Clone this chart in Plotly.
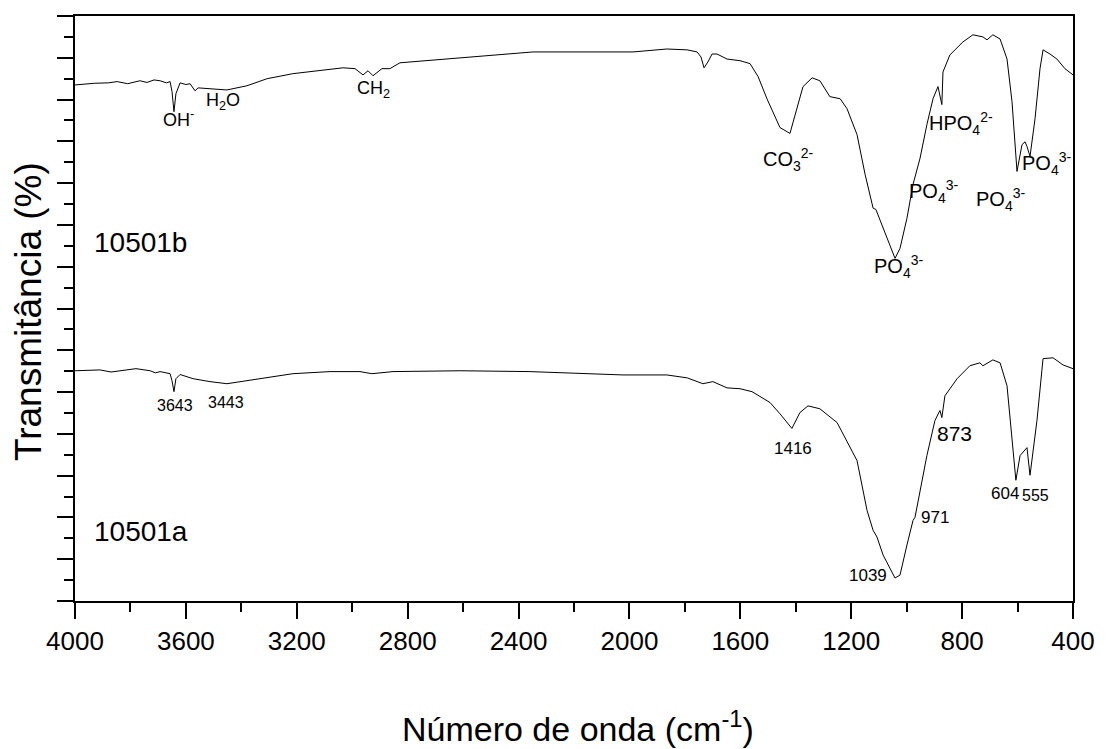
import plotly.graph_objects as go

# ---- data ----
wn_b = [4000, 3930, 3880, 3848, 3810, 3766, 3740, 3715, 3693, 3670, 3657, 3650, 3643, 3636, 3621, 3600, 3585,
        3574, 3567, 3556, 3513, 3452, 3380, 3307, 3214, 3116, 3033, 2990, 2961, 2943, 2925, 2893, 2864,
        2828, 2611, 2514, 2348, 2200, 1987, 1865, 1792, 1756, 1742, 1731, 1717, 1702, 1684, 1648, 1601,
        1565, 1536, 1504, 1457, 1421, 1396, 1374, 1341, 1313, 1277, 1240, 1215, 1179, 1150, 1121, 1111,
        1085, 1042, 1024, 999, 977, 952, 927, 905, 887, 873, 869, 844, 797, 761, 725, 710, 689, 663,
        638, 620, 602, 591, 584, 573, 566, 555, 537, 519, 508, 483, 458, 429, 400]
t_b = [123.5, 123.9, 124.0, 124.3, 123.8, 124.5, 124.1, 124.7, 124.5, 124.0, 124.3, 121.9, 117.1, 121.4, 124.0,
       123.6, 123.8, 122.8, 122.1, 122.8, 122.6, 122.3, 123.3, 125.0, 126.2, 126.9, 127.6, 127.4, 125.9,
       126.9, 125.7, 127.4, 127.4, 128.8, 130.0, 130.5, 131.4, 131.4, 131.4, 132.1, 131.9, 131.4, 130.2,
       127.6, 129.0, 130.9, 130.9, 129.7, 129.3, 128.6, 125.5, 120.2, 113.3, 111.9, 117.8, 123.1, 125.2,
       124.5, 120.7, 120.2, 117.8, 111.6, 102.1, 94.0, 93.7, 89.2, 82.0, 84.4, 91.6, 99.7, 105.9, 114.0,
       120.2, 123.1, 118.8, 126.6, 130.7, 133.8, 135.5, 135.0, 134.3, 135.5, 134.5, 129.7, 119.5, 102.8,
       106.4, 109.2, 109.9, 108.8, 106.4, 115.4, 127.4, 131.9, 130.9, 129.7, 127.4, 125.9]

wn_a = [4000, 3910, 3870, 3812, 3780, 3729, 3710, 3693, 3657, 3650, 3643, 3636, 3621, 3574, 3513, 3452, 3333,
        3214, 3080, 2972, 2929, 2853, 2611, 2359, 2023, 1865, 1792, 1735, 1699, 1648, 1601, 1558, 1493,
        1457, 1414, 1385, 1356, 1313, 1251, 1204, 1179, 1143, 1121, 1107, 1085, 1042, 1024, 999, 977, 970,
        952, 927, 898, 880, 873, 862, 818, 772, 736, 725, 689, 663, 638, 627, 606, 591, 566, 555, 530,
        508, 472, 436, 400]
t_a = [55.1, 55.3, 54.8, 55.3, 55.6, 55.1, 54.6, 54.9, 54.4, 52.7, 50.1, 53.2, 54.2, 53.2, 52.5, 52.0, 53.2,
       54.4, 54.9, 54.9, 54.4, 54.9, 55.1, 54.9, 54.1, 54.1, 53.4, 52.0, 52.5, 51.0, 50.8, 50.1, 47.5,
       44.8, 41.3, 45.1, 46.7, 46.0, 42.7, 36.7, 33.6, 21.7, 16.9, 15.3, 11.0, 5.5, 6.2, 13.4, 19.3, 20.0,
       26.5, 34.8, 43.2, 45.6, 43.9, 49.1, 53.2, 56.3, 57.0, 56.3, 57.7, 57.0, 51.5, 43.2, 28.9, 34.8,
       36.7, 30.1, 43.2, 58.0, 58.2, 56.5, 55.6]

x_ticks = [4000, 3600, 3200, 2800, 2400, 2000, 1600, 1200, 800, 400]
x_tick_labels = [str(v) for v in x_ticks]

# annotation texts / anchor positions (wavenumber, value)
band_texts = ["OH<sup>-</sup>", "H<sub>2</sub>O", "CH<sub>2</sub>", "CO<sub>3</sub><sup>2-</sup>",
              "PO<sub>4</sub><sup>3-</sup>", "PO<sub>4</sub><sup>3-</sup>", "HPO<sub>4</sub><sup>2-</sup>",
              "PO<sub>4</sub><sup>3-</sup>", "PO<sub>4</sub><sup>3-</sup>"]
band_x = [3628, 3466, 2925, 1428, 1028, 905, 804, 663, 497]
band_y = [115.4, 119.5, 122.3, 105.7, 80.1, 98.0, 114.2, 96.1, 104.7]
band_size = [18, 18, 18, 20, 20, 20, 20, 20, 20]

peak_texts = ["3643", "3443", "1416", "1039", "971", "873", "604", "555"]
peak_x = [3639, 3455, 1410, 1139, 898, 826, 645, 534]
peak_y = [46.7, 47.5, 36.5, 6.2, 20.0, 40.1, 25.8, 25.3]
peak_size = [16, 16, 17, 17, 17, 21, 17, 16]

sample_names = ["10501b", "10501a"]
sample_x = [3762, 3762]
sample_y = [85.9, 16.7]

FONT = "Liberation Sans, Arial, Helvetica, sans-serif"

fig = go.Figure()
fig.add_trace(go.Scatter(x=wn_b, y=t_b, mode="lines", line=dict(color="black", width=1), showlegend=False))
fig.add_trace(go.Scatter(x=wn_a, y=t_a, mode="lines", line=dict(color="black", width=1), showlegend=False))

ann = []
def add(text, x, y, size, **kw):
    d = dict(x=x, y=y, text=text, showarrow=False, xanchor="center", yanchor="middle",
             font=dict(size=size, color="black", family=FONT))
    d.update(kw)
    ann.append(d)

for t, x, y, s in zip(band_texts, band_x, band_y, band_size):
    add(t, x, y, s)
for t, x, y, s in zip(peak_texts, peak_x, peak_y, peak_size):
    add(t, x, y, s)
for t, x, y in zip(sample_names, sample_x, sample_y):
    add(t, x, y, 28)
add("Número de onda (cm<sup>-1</sup>)", 0.504, -0.2147, 34, xref="paper", yref="paper")
add("Transmitância (%)", -0.0471, 0.4957, 37, xref="paper", yref="paper", textangle=-90)

# page body has an 8px margin, so the figure is made 8px smaller and shifted
fig.update_layout(
    width=1105, height=741,
    margin=dict(l=67, r=40, t=6, b=148),
    paper_bgcolor="white", plot_bgcolor="white",
    font=dict(family=FONT, color="black"),
    annotations=ann,
    xaxis=dict(range=[4000, 400], tickvals=x_ticks, ticktext=x_tick_labels, ticks="outside", ticklen=16,
               tickwidth=2, tickcolor="black", showline=True, linewidth=2, linecolor="black", mirror=True,
               showgrid=False, zeroline=False, tickfont=dict(size=26, family=FONT, color="black"),
               minor=dict(dtick=200, ticks="outside", ticklen=9, tickwidth=2, tickcolor="black", showgrid=False)),
    yaxis=dict(range=[0, 140], dtick=10, tick0=0, ticks="outside", ticklen=16, tickwidth=2, tickcolor="black",
               showline=True, linewidth=2, linecolor="black", mirror=True, showgrid=False, zeroline=False,
               showticklabels=False,
               minor=dict(dtick=5, ticks="outside", ticklen=9, tickwidth=2, tickcolor="black", showgrid=False)),
)

fig.write_html("out.html")
